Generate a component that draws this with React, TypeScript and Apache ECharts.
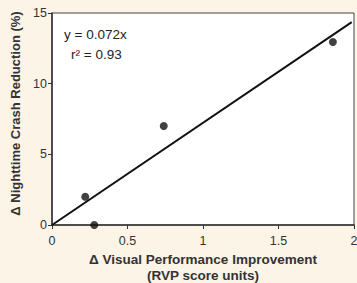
import React, { useEffect, useRef } from "react";
import * as echarts from "echarts";

const points: [number, number][] = [
  [0.22, 2.0],
  [0.28, 0.0],
  [0.74, 7.0],
  [1.86, 12.95],
];
const fitLine: [number, number][] = [
  [0, 0],
  [1.985, 14.35],
];
const xTicks = [0, 0.5, 1, 1.5, 2];
const yTicks = [0, 5, 10, 15];
const equationText = "y = 0.072x";
const r2Text = "r² = 0.93";
const xTitle = "Δ Visual Performance Improvement\n(RVP score units)";
const yTitle = "Δ Nighttime Crash Reduction (%)";

export default function App() {
  const ref = useRef<HTMLDivElement>(null);
  useEffect(() => {
    if (!ref.current) return;
    const chart = echarts.init(ref.current, undefined, { renderer: "svg" });
    const font = "Liberation Sans, Arial, sans-serif";
    chart.setOption({
      animation: false,
      backgroundColor: "#fdf4e8",
      textStyle: { fontFamily: font },
      grid: {
        left: 52,
        right: 3,
        top: 13,
        bottom: 58,
        outerBoundsMode: "none",
        containLabel: false,
        show: true,
        backgroundColor: "#ffffff",
        borderColor: "#444",
        borderWidth: 1,
      },
      xAxis: {
        type: "value",
        min: xTicks[0],
        max: xTicks[xTicks.length - 1],
        interval: 0.5,
        splitLine: { show: false },
        axisLine: { show: true, lineStyle: { color: "#333", width: 1.5 } },
        axisTick: { show: true, length: 4, lineStyle: { color: "#333" } },
        axisLabel: { color: "#333", fontSize: 12.5, margin: 9, fontFamily: font },
        name: xTitle,
        nameLocation: "middle",
        nameGap: 24,
        nameTextStyle: {
          fontWeight: "bold",
          fontSize: 13.5,
          color: "#333",
          lineHeight: 16,
          fontFamily: font,
        },
      },
      yAxis: {
        type: "value",
        min: yTicks[0],
        max: yTicks[yTicks.length - 1],
        interval: 5,
        splitLine: { show: false },
        axisLine: { show: true, lineStyle: { color: "#333", width: 1.5 } },
        axisTick: { show: true, length: 4, lineStyle: { color: "#333" } },
        axisLabel: { color: "#333", fontSize: 12.5, margin: 5, fontFamily: font },
        name: yTitle,
        nameLocation: "middle",
        nameGap: 22,
        nameTextStyle: {
          fontWeight: "bold",
          fontSize: 13,
          color: "#333",
          fontFamily: font,
          padding: [0, 0, 0, 11],
        },
      },
      graphic: [
        {
          type: "text",
          left: 64,
          top: 27,
          style: { text: equationText, fill: "#222", font: `13.5px ${font}` },
        },
        {
          type: "text",
          left: 71,
          top: 47,
          style: { text: r2Text, fill: "#222", font: `13.5px ${font}` },
        },
      ],
      series: [
        {
          type: "line",
          data: fitLine,
          symbol: "none",
          lineStyle: { color: "#111", width: 2 },
          z: 2,
        },
        {
          type: "scatter",
          data: points,
          symbol: "circle",
          symbolSize: 8,
          itemStyle: { color: "#111" },
          z: 3,
        },
      ],
    });
    return () => chart.dispose();
  }, []);
  return <div ref={ref} style={{ width: 357, height: 283, position: "absolute", left: 0, top: 0 }} />;
}
